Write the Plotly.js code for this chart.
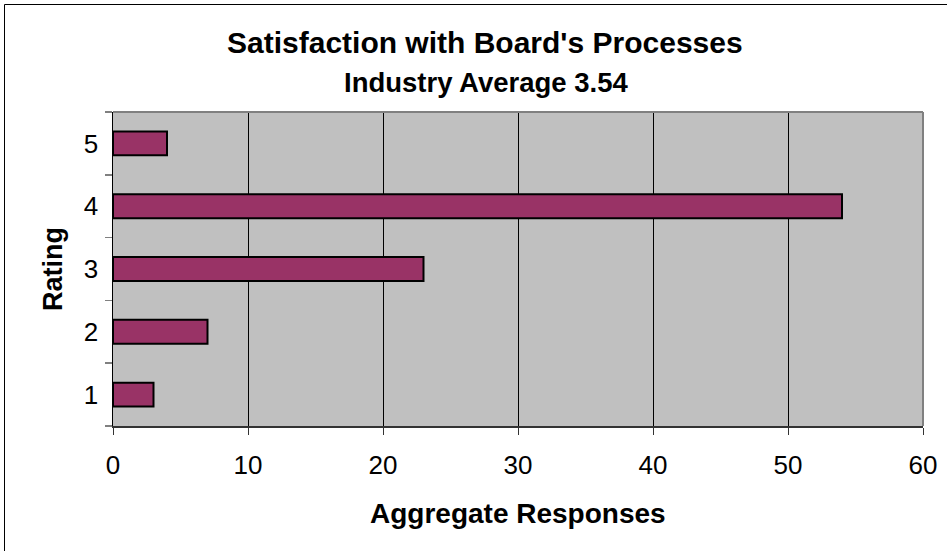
<!DOCTYPE html>
<html>
<head>
<meta charset="utf-8">
<script src="https://cdn.plot.ly/plotly-3.0.1.min.js"></script>
<style>html,body{margin:0;padding:0;background:#fff;}#chart{width:947px;height:551px;}</style>
</head>
<body>
<div id="chart"></div>
<script>
// Data
const ratings = ['1', '2', '3', '4', '5'];
const responses = [3, 7, 23, 54, 4];
const xTicks = [0, 10, 20, 30, 40, 50, 60];
const titleText = "Satisfaction with Board's Processes";
const subtitleText = "Industry Average 3.54";
const xTitle = "Aggregate Responses";
const yTitle = "Rating";

const W = 947, H = 551;
const L = 113, R = 24, T = 112, B = 125;
const pw = W - L - R, ph = H - T - B;
const px = p => (p - L) / pw;           // pixel x -> paper x
const py = p => (H - B - p) / ph;       // pixel y -> paper y

const font = 'Liberation Sans, Arial, sans-serif';

const trace = {
  type: 'bar',
  orientation: 'h',
  x: responses,
  y: ratings,
  width: 0.38,
  marker: { color: '#993366', line: { color: '#000000', width: 2 } },
  hoverinfo: 'x+y'
};

const layout = {
  width: W, height: H,
  margin: { l: L, r: R, t: T, b: B, pad: 0 },
  paper_bgcolor: '#ffffff',
  plot_bgcolor: '#c0c0c0',
  showlegend: false,
  font: { family: font, color: '#000000' },
  xaxis: {
    range: [0, 60],
    tickvals: xTicks,
    ticktext: xTicks.map(String),
    showgrid: true, gridcolor: '#000000', gridwidth: 1,
    zeroline: false,
    showline: true, linecolor: '#333333', linewidth: 2,
    ticks: 'outside', ticklen: 7, tickcolor: '#333333', tickwidth: 1,
    tickfont: { family: font, size: 26, color: '#000000' },
    ticklabelstandoff: 8,
    fixedrange: true
  },
  yaxis: {
    type: 'category',
    categoryorder: 'array', categoryarray: ratings,
    range: [-0.5, 4.5],
    tickson: 'boundaries',
    showgrid: false, zeroline: false,
    showline: true, linecolor: '#000000', linewidth: 1.5,
    ticks: 'outside', ticklen: 7, tickcolor: '#808080', tickwidth: 1.5,
    tickfont: { family: font, size: 26, color: '#000000' },
    ticklabelstandoff: 8,
    fixedrange: true
  },
  shapes: [
    // top and right plot border (gray)
    { type: 'line', xref: 'paper', yref: 'paper', x0: 0, x1: 1, y0: 1, y1: 1, line: { color: '#808080', width: 2 } },
    { type: 'line', xref: 'paper', yref: 'paper', x0: 1, x1: 1, y0: 0, y1: 1, line: { color: '#808080', width: 2 } },
    // outer chart frame
    { type: 'rect', xref: 'paper', yref: 'paper', x0: px(4.5), x1: px(965), y0: py(4.5), y1: py(565), line: { color: '#000000', width: 1 }, fillcolor: 'rgba(0,0,0,0)', layer: 'above' }
  ],
  annotations: [
    { text: '<b>' + titleText + '</b>', xref: 'paper', yref: 'paper', x: px(485), y: py(43), xanchor: 'center', yanchor: 'middle', showarrow: false, font: { family: font, size: 30, color: '#000000' } },
    { text: '<b>' + subtitleText + '</b>', xref: 'paper', yref: 'paper', x: px(486), y: py(83), xanchor: 'center', yanchor: 'middle', showarrow: false, font: { family: font, size: 27.5, color: '#000000' } },
    { text: '<b>' + xTitle + '</b>', xref: 'paper', yref: 'paper', x: px(518), y: py(513), xanchor: 'center', yanchor: 'middle', showarrow: false, font: { family: font, size: 28, color: '#000000' } },
    { text: '<b>' + yTitle + '</b>', xref: 'paper', yref: 'paper', x: px(53), y: py(269), xanchor: 'center', yanchor: 'middle', textangle: -90, showarrow: false, font: { family: font, size: 27, color: '#000000' } }
  ]
};

Plotly.newPlot('chart', [trace], layout, { displayModeBar: false, staticPlot: true });
</script>
</body>
</html>
